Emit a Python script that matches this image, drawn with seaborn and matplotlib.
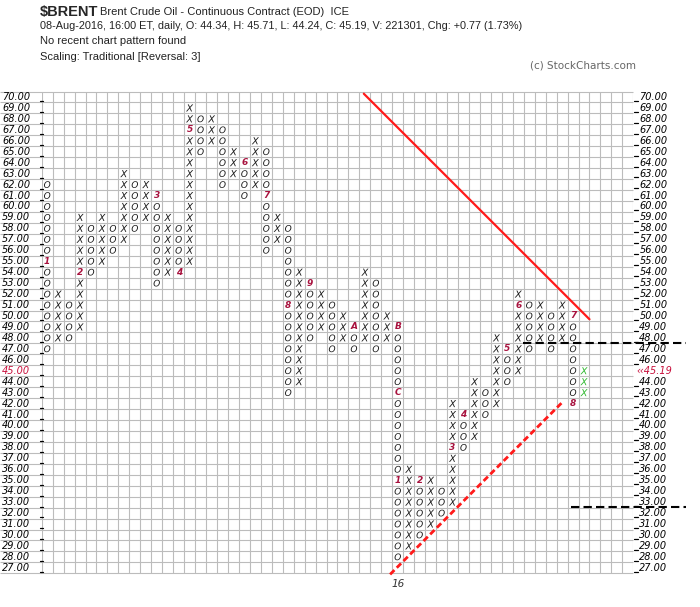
import numpy as np
import pandas as pd
import matplotlib
matplotlib.use("Agg")
import matplotlib.pyplot as plt
import seaborn as sns

# ---------------- data ----------------
col_kind = "OXOXOXOXOXOXOXOXOXOXOXOXOXOXOXOXOXOXOXOXOXOXOXOXOX"
col_low = [47, 48, 48, 49, 54, 55, 56, 57, 58, 59, 53, 54, 54, 55, 65, 66, 62, 63, 61, 62,
           56, 57, 43, 44, 48, 49, 47, 48, 47, 48, 47, 48, 28, 29, 30, 31, 32, 33, 38, 39,
           41, 42, 44, 45, 47, 48, 47, 48, 42, 43]
col_high = [62, 52, 51, 59, 58, 59, 58, 63, 62, 62, 61, 59, 58, 69, 68, 68, 67, 65, 64, 66,
            65, 59, 58, 54, 53, 52, 51, 50, 49, 54, 53, 50, 49, 36, 35, 35, 34, 42, 41, 44,
            43, 48, 47, 52, 51, 51, 50, 51, 50, 45]
current_col = 50

month_col = [1, 4, 11, 13, 14, 19, 21, 23, 25, 29, 33, 33, 33, 35, 38, 39, 43, 44, 49, 49]
month_price = [55, 54, 61, 54, 67, 64, 61, 51, 53, 49, 49, 43, 35, 35, 38, 41, 47, 51, 50, 42]
month_label = ["1", "2", "3", "4", "5", "6", "7", "8", "9", "A", "B", "C",
               "1", "2", "3", "4", "5", "6", "7", "8"]
year_col, year_label = 33, "16"

price_min, price_max = 27, 70
n_grid_cols = 54
last_price_label = "\u2039\u203945.19"
last_price = 45

bear_x, bear_y = [29.9, 50.5], [70.3, 49.7]
bull_x, bull_y = [32.3, 48.0], [26.4, 42.1]
hline1_y, hline1_x = 47.55, [44.4, 59.35]
hline2_y, hline2_x = 32.55, [48.85, 59.35]

title_sym = r"\$BRENT"
title_desc = "Brent Crude Oil - Continuous Contract (EOD)  ICE"
info_line = "08-Aug-2016, 16:00 ET, daily, O: 44.34, H: 45.71, L: 44.24, C: 45.19, V: 221301, Chg: +0.77 (1.73%)"
pattern_line = "No recent chart pattern found"
scaling_line = "Scaling: Traditional [Reversal: 3]"
credit = "(c) StockCharts.com"

# ---------------- build cells ----------------
marked = set(zip(month_col, month_price))
rows = []
for i, (k, lo, hi) in enumerate(zip(col_kind, col_low, col_high)):
    c = i + 1
    for p in range(lo, hi + 1):
        if (c, p) in marked:
            continue
        rows.append({"col": c, "price": p, "kind": k,
                     "grp": "current" if c == current_col else "hist"})
cells = pd.DataFrame(rows)

# ---------------- figure ----------------
sns.set_theme(style="white")
plt.rcParams["font.family"] = ["DejaVu Sans"]
W, H = 700, 607
fig = plt.figure(figsize=(W / 100, H / 100), dpi=100)
gl, gr, gt, gb = 41.7, 633.3, 91.5, 573.3
ax = fig.add_axes([gl / W, 1 - gb / H, (gr - gl) / W, (gb - gt) / H])
ax.set_xlim(0.5, n_grid_cols + 0.5)
ax.set_ylim(price_min - 0.5, price_max + 0.5)
for s in ax.spines.values():
    s.set_visible(False)
ax.set_xticks([])
ax.set_yticks([])
ax.set_facecolor("white")

cw = (gr - gl) / n_grid_cols
left_edge_data = 0.5 - gl / cw

grid_c = "#bcbcbc"
ax.vlines(np.arange(0.5, n_grid_cols + 1), price_min - 0.5, price_max + 0.5,
          color=grid_c, lw=0.8, zorder=1)
ax.hlines(np.arange(price_min - 0.5, price_max + 1), left_edge_data, n_grid_cols + 0.5,
          color=grid_c, lw=0.8, zorder=1, clip_on=False)

sns.scatterplot(data=cells, x="col", y="price", hue="grp", style="kind", size="kind",
                palette={"hist": "#1a1a1a", "current": "#2eb82e"},
                markers={"X": "$X$", "O": "$O$"}, sizes={"X": 27, "O": 24},
                linewidth=0, legend=False, ax=ax, zorder=3)
ax.set_xlabel("")
ax.set_ylabel("")

mcol = "#a8123e"
for c, p, t in zip(month_col, month_price, month_label):
    ax.text(c, p, t, color=mcol, fontsize=6.5, fontstyle="italic", fontweight="semibold",
            ha="center", va="center", zorder=4)
ax.text(year_col, price_min - 1.45, year_label, color="#333333", fontsize=7.5,
        fontstyle="italic", ha="center", va="center", clip_on=False)

# price labels
red = "#c8103c"
for p in range(price_min, price_max + 1):
    col = red if p == last_price else "black"
    ax.text(left_edge_data + 0.18, p, f"{p:.2f}", fontsize=7, fontstyle="italic",
            color=col, ha="left", va="center", clip_on=False)
    if p == last_price:
        ax.text(n_grid_cols + 0.78, p, last_price_label, fontsize=7,
                fontstyle="italic", color=col, ha="left", va="center", clip_on=False)
    else:
        ax.text(n_grid_cols + 1.05, p, f"{p:.2f}", fontsize=7,
                fontstyle="italic", color=col, ha="left", va="center", clip_on=False)
    ax.plot([0.3, 0.66], [p - 0.4, p - 0.4], color="black", lw=0.9, clip_on=False, zorder=2)
    if p != last_price:
        ax.plot([n_grid_cols + 0.6, n_grid_cols + 0.97], [p - 0.35, p - 0.35],
                color="black", lw=0.9, clip_on=False, zorder=2)

# trend lines
ax.plot(bear_x, bear_y, color="#ff1a1a", lw=1.6, zorder=5, clip_on=False)
ax.plot(bull_x, bull_y, color="#ff1a1a", lw=2.0, ls=(0, (2.2, 1.2)), zorder=5, clip_on=False)
ax.plot(hline1_x, [hline1_y] * 2, color="black", lw=1.5, ls=(0, (4, 2)), zorder=5, clip_on=False)
ax.plot(hline2_x, [hline2_y] * 2, color="black", lw=1.5, ls=(0, (4, 2)), zorder=5, clip_on=False)

# header
hf = ["Liberation Sans", "DejaVu Sans"]
fig.text(40 / W, 1 - 12 / H, title_sym, fontsize=10.5, fontweight="bold", family=hf,
         va="center", ha="left")
fig.text(100 / W, 1 - 12 / H, title_desc, fontsize=8, family=hf, va="center", ha="left",
         color="#222222")
fig.text(40 / W, 1 - 26 / H, info_line, fontsize=7.85, family=hf, va="center", ha="left",
         color="#222222")
fig.text(40 / W, 1 - 41.5 / H, pattern_line, fontsize=8, family=hf, va="center", ha="left",
         color="#222222")
fig.text(40 / W, 1 - 57 / H, scaling_line, fontsize=8, family=hf, va="center", ha="left",
         color="#222222")
fig.text(636 / W, 1 - 66 / H, credit, fontsize=7.5, family=["DejaVu Sans"], va="center",
         ha="right", color="#666666")

fig.savefig("out.png", dpi=100, facecolor="white")
